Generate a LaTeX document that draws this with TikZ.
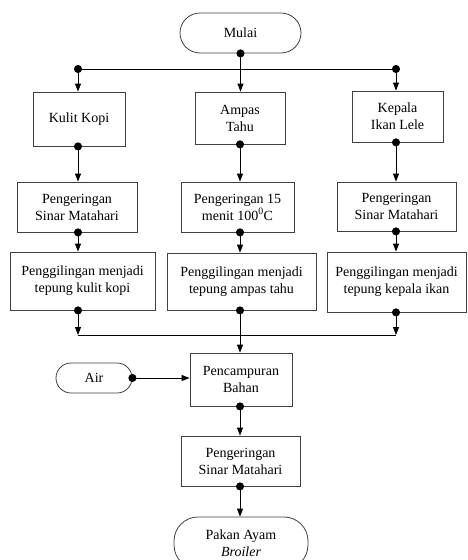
\documentclass[tikz,border=0pt]{standalone}
\usepackage{fontspec}
\setmainfont{Liberation Serif}
\usetikzlibrary{arrows.meta,positioning}

\begin{document}
\begin{tikzpicture}[
  x=1pt, y=-1pt,
  font=\fontsize{14}{17}\selectfont,
  box/.style={draw=black!75, line width=0.8pt, align=center, inner sep=0pt},
  term/.style={box, rounded corners=#1},
  link/.style={draw=black, line width=1pt},
  flow/.style={link, -{Triangle[length=8pt, width=6pt]}},
  dflow/.style={flow, {Circle[length=8pt]}-{Triangle[length=8pt, width=6pt]}, shorten <=-4pt}
]
\useasboundingbox (0,0) rectangle (467,560);
% start and the three raw materials
\node[term=20pt, minimum width=121pt, minimum height=40pt] (mulai) at (240.5,33) {Mulai};
\node[box, minimum width=92pt, minimum height=54pt]  (kulit)  at (79,119)    {Kulit Kopi};
\node[box, minimum width=90pt, minimum height=52pt]  (ampas)  at (240,118)   {Ampas\\Tahu};
\node[box, minimum width=91pt, minimum height=51pt]  (kepala) at (397.5,116.5) {Kepala\\Ikan Lele};
% drying
\node[box, minimum width=120pt, minimum height=50pt] (kering1) at (77,207)    {Pengeringan\\Sinar Matahari};
\node[box, minimum width=113pt, minimum height=50pt] (kering2) at (237.5,207)  {Pengeringan 15\\menit 100\textsuperscript{0}C};
\node[box, minimum width=119pt, minimum height=49pt] (kering3) at (396.5,206.5) {Pengeringan\\Sinar Matahari};
% grinding
\node[box, minimum width=145pt, minimum height=58pt] (giling1) at (82.5,281)  {Penggilingan menjadi\\tepung kulit kopi};
\node[box, minimum width=149pt, minimum height=57pt] (giling2) at (241.5,281.5) {Penggilingan menjadi\\tepung ampas tahu};
\node[box, minimum width=139pt, minimum height=60pt] (giling3) at (396.5,282)  {Penggilingan menjadi\\tepung kepala ikan};
% mixing and end
\node[term=15pt, minimum width=76pt, minimum height=30pt]  (air)     at (94,378)    {Air};
\node[box, minimum width=102pt, minimum height=53pt]       (campur)  at (241,379.5) {Pencampuran\\Bahan};
\node[box, minimum width=119pt, minimum height=50pt]       (kering4) at (240.5,461) {Pengeringan\\Sinar Matahari};
\node[term=24pt, minimum width=134pt, minimum height=52pt] (pakan)   at (241,543)   {Pakan Ayam\\\textit{Broiler}};

\coordinate (jL) at (78,69);
\coordinate (jR) at (396,69);
\coordinate (mL) at (78,335);
\coordinate (mR) at (396,335);

\draw[link] (jL) -- (jR);
\draw[dflow] (mulai.south) -- (mulai.south |- ampas.north);
\draw[dflow] (jL) -- (jL |- kulit.north);
\draw[dflow] (jR) -- (jR |- kepala.north);
\draw[dflow] (kulit.south -| jL) -- (jL |- kering1.north);
\draw[dflow] (ampas.south) -- (ampas.south |- kering2.north);
\draw[dflow] (kepala.south -| jR) -- (jR |- kering3.north);
\draw[dflow] (kering1.south -| jL) -- (jL |- giling1.north);
\draw[dflow] (kering2.south -| ampas.south) -- (ampas.south |- giling2.north);
\draw[dflow] (kering3.south -| jR) -- (jR |- giling3.north);
\draw[link] (mL) -- (mR);
\draw[dflow] (giling1.south -| mL) -- (mL);
\draw[dflow] (giling3.south -| mR) -- (mR);
\draw[dflow] (giling2.south -| ampas.south) -- (ampas.south |- campur.north);
\draw[dflow] (air.east) -- (air.east -| campur.west);
\draw[dflow] (campur.south -| ampas.south) -- (ampas.south |- kering4.north);
\draw[dflow] (kering4.south -| ampas.south) -- (ampas.south |- pakan.north);
\end{tikzpicture}
\end{document}
